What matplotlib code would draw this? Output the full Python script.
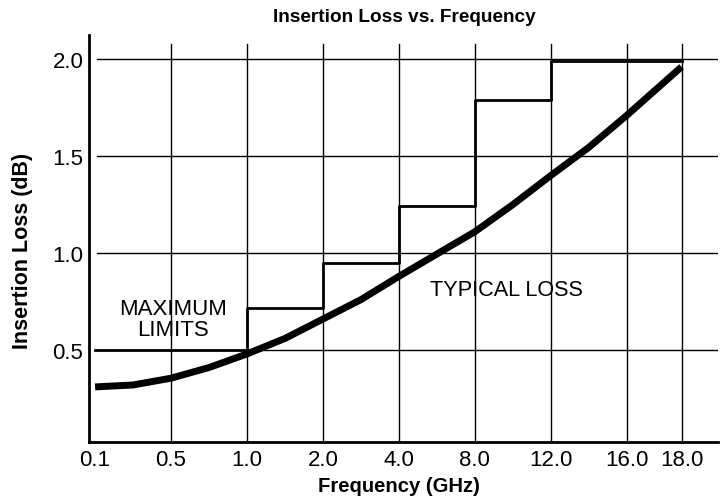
import numpy as np
import matplotlib
matplotlib.use("Agg")
import matplotlib.pyplot as plt

plt.rcParams['font.family'] = ['Liberation Sans', 'DejaVu Sans']

# Tick frequencies (GHz) and their labels
tick_freqs = [0.1, 0.5, 1.0, 2.0, 4.0, 8.0, 12.0, 16.0, 18.0]
tick_labels = ['0.1', '0.5', '1.0', '2.0', '4.0', '8.0', '12.0', '16.0', '18.0']
tick_pos = [0, 1, 2, 3, 4, 5, 6, 7, 7.72]

# Maximum limits (step): band edges and level (dB)
limit_edges = [0.1, 1.0, 2.0, 4.0, 8.0, 12.0, 18.0]
limit_levels = [0.50, 0.716, 0.95, 1.24, 1.79, 1.99]

# Typical loss curve
typ_freqs = [0.1, 0.3, 0.5, 0.75, 1.0, 1.5, 2.0, 3.0, 4.0, 6.0, 8.0,
             10.0, 12.0, 14.0, 16.0, 17.0, 18.0]
typ_loss = [0.31, 0.32, 0.355, 0.41, 0.48, 0.56, 0.66, 0.76, 0.88, 0.995,
            1.11, 1.25, 1.40, 1.545, 1.71, 1.835, 1.96]


def fpos(f):
    return np.interp(f, tick_freqs, tick_pos)


fig = plt.figure(figsize=(7.26, 5.02), dpi=100)
ax = fig.add_axes([0.1226, 0.1175, 0.8664, 0.8108])

ax.set_xlim(-0.08, 8.2)
ax.set_ylim(0.026, 2.124)

# grid
for p in tick_pos[1:]:
    ax.plot([p, p], [0.026, 2.077], color='black', lw=1.0, zorder=1)
for y in [0.5, 1.0, 1.5, 2.0]:
    ax.plot([0.02, 8.2], [y, y], color='black', lw=1.0, zorder=1)

# step line
sx, sy = [], []
for i, lvl in enumerate(limit_levels):
    sx += [fpos(limit_edges[i]), fpos(limit_edges[i + 1])]
    sy += [lvl, lvl]
ax.plot(sx, sy, color='black', lw=2.0, zorder=2)

# typical curve
ax.plot(fpos(np.array(typ_freqs)), typ_loss, color='black', lw=5,
        solid_capstyle='butt', solid_joinstyle='round', zorder=3)

ax.text(1.03, 0.66, 'MAXIMUM\nLIMITS', ha='center', va='center',
        fontsize=16, linespacing=0.95)
ax.text(5.42, 0.81, 'TYPICAL LOSS', ha='center', va='center', fontsize=15.6)

for s in ['top', 'right']:
    ax.spines[s].set_visible(False)
for s in ['left', 'bottom']:
    ax.spines[s].set_linewidth(2.0)

ax.set_xticks(tick_pos)
ax.set_xticklabels(tick_labels, fontsize=16)
ax.set_yticks([0.5, 1.0, 1.5, 2.0])
ax.set_yticklabels(['0.5', '1.0', '1.5', '2.0'], fontsize=16)
ax.tick_params(axis='x', length=0, pad=5)
ax.tick_params(axis='y', length=0, pad=4)

fig.text(399 / 726, 1 - 487 / 502, 'Frequency (GHz)', ha='center', va='center',
         fontsize=14.6, fontweight='bold')
fig.text(23 / 726, 1 - 251 / 502, 'Insertion Loss (dB)', ha='center', va='center',
         rotation=90, fontsize=15.5, fontweight='bold')
fig.text(404.5 / 726, 1 - 17 / 502, 'Insertion Loss vs. Frequency', ha='center',
         va='center', fontsize=13.7, fontweight='bold')

fig.savefig('out.png', dpi=100)
